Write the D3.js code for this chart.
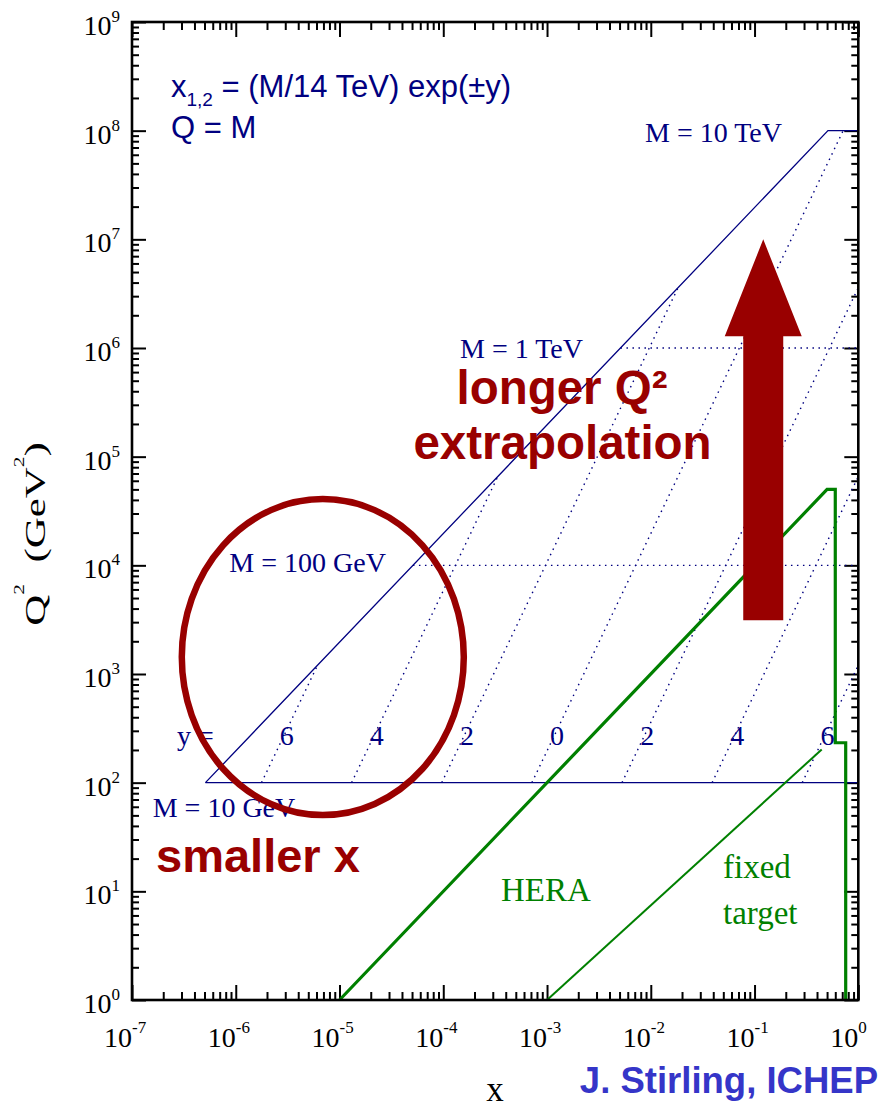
<!DOCTYPE html>
<html>
<head>
<meta charset="utf-8">
<script src="https://cdn.jsdelivr.net/npm/d3@7"></script>
<style>
  body { margin: 0; background: #fff; }
  svg { display: block; }
</style>
</head>
<body>
<svg id="chart" width="881" height="1109"></svg>
<script>
// ---- data -------------------------------------------------------------
const xDecades = [-7, -6, -5, -4, -3, -2, -1, 0];
const yDecades = [0, 1, 2, 3, 4, 5, 6, 7, 8, 9];

// LHC (14 TeV) kinematic boundary: x = Q^2/s, capped at M = 10 TeV
const lhcBoundary = [[5.102e-7, 1e2], [0.5102, 1e8], [1, 1e8]];

// lines of constant mass M (Q = M)
const massQ2      = [1e2, 1e4, 1e6];
const massXStart  = [5.102e-7, 5.102e-5, 5.102e-3];
const massDotted  = [false, true, true];
const massLabels  = ["M = 10 GeV", "M = 100 GeV", "M = 1 TeV", "M = 10 TeV"];

// lines of constant rapidity y (from M = 10 GeV up to the kinematic edge)
const rapidityValues = ["6", "4", "2", "0", "2", "4", "6"];
const rapidityLines = [
  [[1.771e-6, 1e2], [6.14e-6, 1204]],
  [[1.308e-5, 1e2], [3.355e-4, 6.575e4]],
  [[9.667e-5, 1e2], [1.832e-2, 3.59e6]],
  [[7.143e-4, 1e2], [0.7143, 1e8]],
  [[5.278e-3, 1e2], [1, 3.59e6]],
  [[3.900e-2, 1e2], [1, 6.575e4]],
  [[0.2882, 1e2], [1, 1204]]
];

// HERA and fixed-target coverage
const heraEdge   = [[1e-5, 1], [0.5, 5e4], [0.60, 5e4], [0.60, 233], [0.756, 233], [0.756, 1]];
const fixedTarget = [[1e-3, 1], [0.444, 202]];

// highlight marks
const arrowX  = 0.1213;
const arrowQ2 = { base: 3.13e3, neck: 1.28e6, tip: 1e7 };
const ringCentre = [6.9e-6, 1432];

// ---- layout -----------------------------------------------------------
const L = 132, R = 858.3, T = 22, B = 1000;
const svg = d3.select("#chart");
const x = d3.scaleLog().domain([1e-7, 1]).range([L, R]);
const y = d3.scaleLog().domain([1, 1e9]).range([B, T]);

const NAVY = "#000080", GREEN = "#008000", RED = "#990000";
const SERIF = "'Liberation Serif', 'Times New Roman', serif";
const SANS = "'Liberation Sans', Arial, Helvetica, sans-serif";

const line = d3.line().x(d => x(d[0])).y(d => y(d[1]));

// ---- axes (ticks on all four sides, pointing inward) -----------------
const xMajor = xDecades.map(d => Math.pow(10, d));
const yMajor = yDecades.map(d => Math.pow(10, d));
const xMinor = [], yMinor = [];
xDecades.slice(0, -1).forEach(d => { for (let k = 2; k <= 9; k++) xMinor.push(k * Math.pow(10, d)); });
yDecades.slice(0, -1).forEach(d => { for (let k = 2; k <= 9; k++) yMinor.push(k * Math.pow(10, d)); });

function addAxis(gen, tx, ty, values, size) {
  const g = svg.append("g").attr("transform", `translate(${tx},${ty})`)
    .call(gen.tickValues(values).tickSize(size).tickSizeOuter(0).tickFormat(""));
  g.select(".domain").remove();
  g.selectAll(".tick line").attr("stroke", "#000").attr("stroke-width", 2);
}
addAxis(d3.axisBottom(x), 0, B, xMajor, -15);
addAxis(d3.axisBottom(x), 0, B, xMinor, -8);
addAxis(d3.axisTop(x), 0, T, xMajor, -15);
addAxis(d3.axisTop(x), 0, T, xMinor, -8);
addAxis(d3.axisLeft(y), L, 0, yMajor, -14);
addAxis(d3.axisLeft(y), L, 0, yMinor, -7);
addAxis(d3.axisRight(y), R, 0, yMajor, -14);
addAxis(d3.axisRight(y), R, 0, yMinor, -7);

// tick labels with superscript exponents
svg.append("g").selectAll("text").data(xDecades).join("text")
  .attr("x", d => x(Math.pow(10, d)) - 28).attr("y", 1047)
  .attr("font-family", SERIF).attr("font-size", 28).attr("fill", "#000")
  .each(function(d) {
    const t = d3.select(this);
    t.append("tspan").text("10");
    t.append("tspan").attr("dy", -14).attr("font-size", 17).text(d);
  });
svg.append("g").selectAll("text").data(yDecades).join("text")
  .attr("x", 120).attr("y", d => y(Math.pow(10, d)) + 13)
  .attr("text-anchor", "end")
  .attr("font-family", SERIF).attr("font-size", 28).attr("fill", "#000")
  .each(function(d) {
    const t = d3.select(this);
    t.append("tspan").text("10");
    t.append("tspan").attr("dy", -13).attr("font-size", 17).text(d);
  });

// axis titles
svg.append("text").attr("x", 495).attr("y", 1101).attr("text-anchor", "middle")
  .attr("font-family", SERIF).attr("font-size", 35).text("x");
const yt = svg.append("text")
  .attr("transform", "translate(45,534) rotate(-90) scale(1.43,1)")
  .attr("text-anchor", "middle").attr("font-family", SERIF).attr("font-size", 30);
yt.append("tspan").text("Q");
yt.append("tspan").attr("dy", -21).attr("font-size", 15).text("2");
yt.append("tspan").attr("dy", 21).text("\u00a0\u00a0(GeV");
yt.append("tspan").attr("dy", -21).attr("font-size", 15).text("2");
yt.append("tspan").attr("dy", 21).text(")");

// ---- kinematic lines --------------------------------------------------
const plot = svg.append("g");

plot.append("path").datum(lhcBoundary).attr("d", line)
  .attr("fill", "none").attr("stroke", NAVY).attr("stroke-width", 1.3);

massQ2.forEach((q2, i) => {
  plot.append("path").datum([[massXStart[i], q2], [1, q2]]).attr("d", line)
    .attr("fill", "none").attr("stroke", NAVY)
    .attr("stroke-width", massDotted[i] ? 1.4 : 1.3)
    .attr("stroke-dasharray", massDotted[i] ? "1.5,4.5" : null);
});

rapidityLines.forEach(pts => {
  plot.append("path").datum(pts).attr("d", line)
    .attr("fill", "none").attr("stroke", NAVY).attr("stroke-width", 1.4)
    .attr("stroke-dasharray", "1.5,4.5");
});

// HERA and fixed target
plot.append("path").datum(heraEdge).attr("d", line)
  .attr("fill", "none").attr("stroke", GREEN).attr("stroke-width", 3.2)
  .attr("stroke-linejoin", "miter");
plot.append("path").datum(fixedTarget).attr("d", line)
  .attr("fill", "none").attr("stroke", GREEN).attr("stroke-width", 2);

// frame
svg.append("rect").attr("x", L).attr("y", T).attr("width", R - L).attr("height", B - T)
  .attr("fill", "none").attr("stroke", "#000").attr("stroke-width", 2.6);

// ---- labels -----------------------------------------------------------
const lab = svg.append("g").attr("font-family", SERIF).attr("fill", NAVY).attr("font-size", 28);
const massLabelPos = [[152.7, 817], [229.3, 572], [460, 357.5], [645, 141.5]];
massLabels.forEach((t, i) => lab.append("text").attr("x", massLabelPos[i][0]).attr("y", massLabelPos[i][1]).text(t));

lab.append("text").attr("x", 177).attr("y", 745).text("y =");
const labelQ2 = Math.pow(10, 2.35);
rapidityLines.forEach((pts, i) => {
  const [a, b] = pts;
  const f = (Math.log10(labelQ2) - Math.log10(a[1])) / (Math.log10(b[1]) - Math.log10(a[1]));
  const lx = Math.pow(10, Math.log10(a[0]) + f * (Math.log10(b[0]) - Math.log10(a[0])));
  lab.append("text").attr("x", x(lx)).attr("y", 745).text(rapidityValues[i]);
});

// formula box
const f1 = svg.append("text").attr("x", 171).attr("y", 97)
  .attr("font-family", SANS).attr("font-size", 31).attr("fill", NAVY);
f1.append("tspan").text("x");
f1.append("tspan").attr("dy", 9).attr("font-size", 19).text("1,2");
f1.append("tspan").attr("dy", -9).text(" = (M/14 TeV) exp(\u00b1y)");
svg.append("text").attr("x", 171).attr("y", 138)
  .attr("font-family", SANS).attr("font-size", 31).attr("fill", NAVY).text("Q = M");

// HERA / fixed target labels
const gl = svg.append("g").attr("font-family", SERIF).attr("fill", GREEN).attr("font-size", 33);
gl.append("text").attr("x", 501).attr("y", 901).text("HERA");
gl.append("text").attr("x", 723).attr("y", 878).text("fixed");
gl.append("text").attr("x", 723).attr("y", 924).text("target");

// ---- highlights -------------------------------------------------------
const ax = x(arrowX), shaftW = 40, headW = 77;
svg.append("path")
  .attr("d", `M${ax - shaftW / 2},${y(arrowQ2.base)} L${ax - shaftW / 2},${y(arrowQ2.neck)} ` +
             `L${ax - headW / 2},${y(arrowQ2.neck)} L${ax},${y(arrowQ2.tip)} ` +
             `L${ax + headW / 2},${y(arrowQ2.neck)} L${ax + shaftW / 2},${y(arrowQ2.neck)} ` +
             `L${ax + shaftW / 2},${y(arrowQ2.base)} Z`)
  .attr("fill", RED);

svg.append("ellipse").attr("cx", x(ringCentre[0])).attr("cy", y(ringCentre[1]))
  .attr("rx", 141).attr("ry", 158)
  .attr("fill", "none").attr("stroke", RED).attr("stroke-width", 6.5);

const big = svg.append("g").attr("font-family", SANS).attr("font-weight", "bold").attr("fill", RED);
big.append("text").attr("x", 562).attr("y", 404).attr("text-anchor", "middle")
  .attr("font-size", 47.5).text("longer Q\u00b2");
big.append("text").attr("x", 562.5).attr("y", 459).attr("text-anchor", "middle")
  .attr("font-size", 47.5).text("extrapolation");
big.append("text").attr("x", 156).attr("y", 872).attr("font-size", 47).text("smaller x");

svg.append("text").attr("x", 878).attr("y", 1093).attr("text-anchor", "end")
  .attr("font-family", SANS).attr("font-weight", "bold").attr("font-size", 36.5)
  .attr("fill", "#3535c8").text("J. Stirling, ICHEP");
</script>
</body>
</html>
